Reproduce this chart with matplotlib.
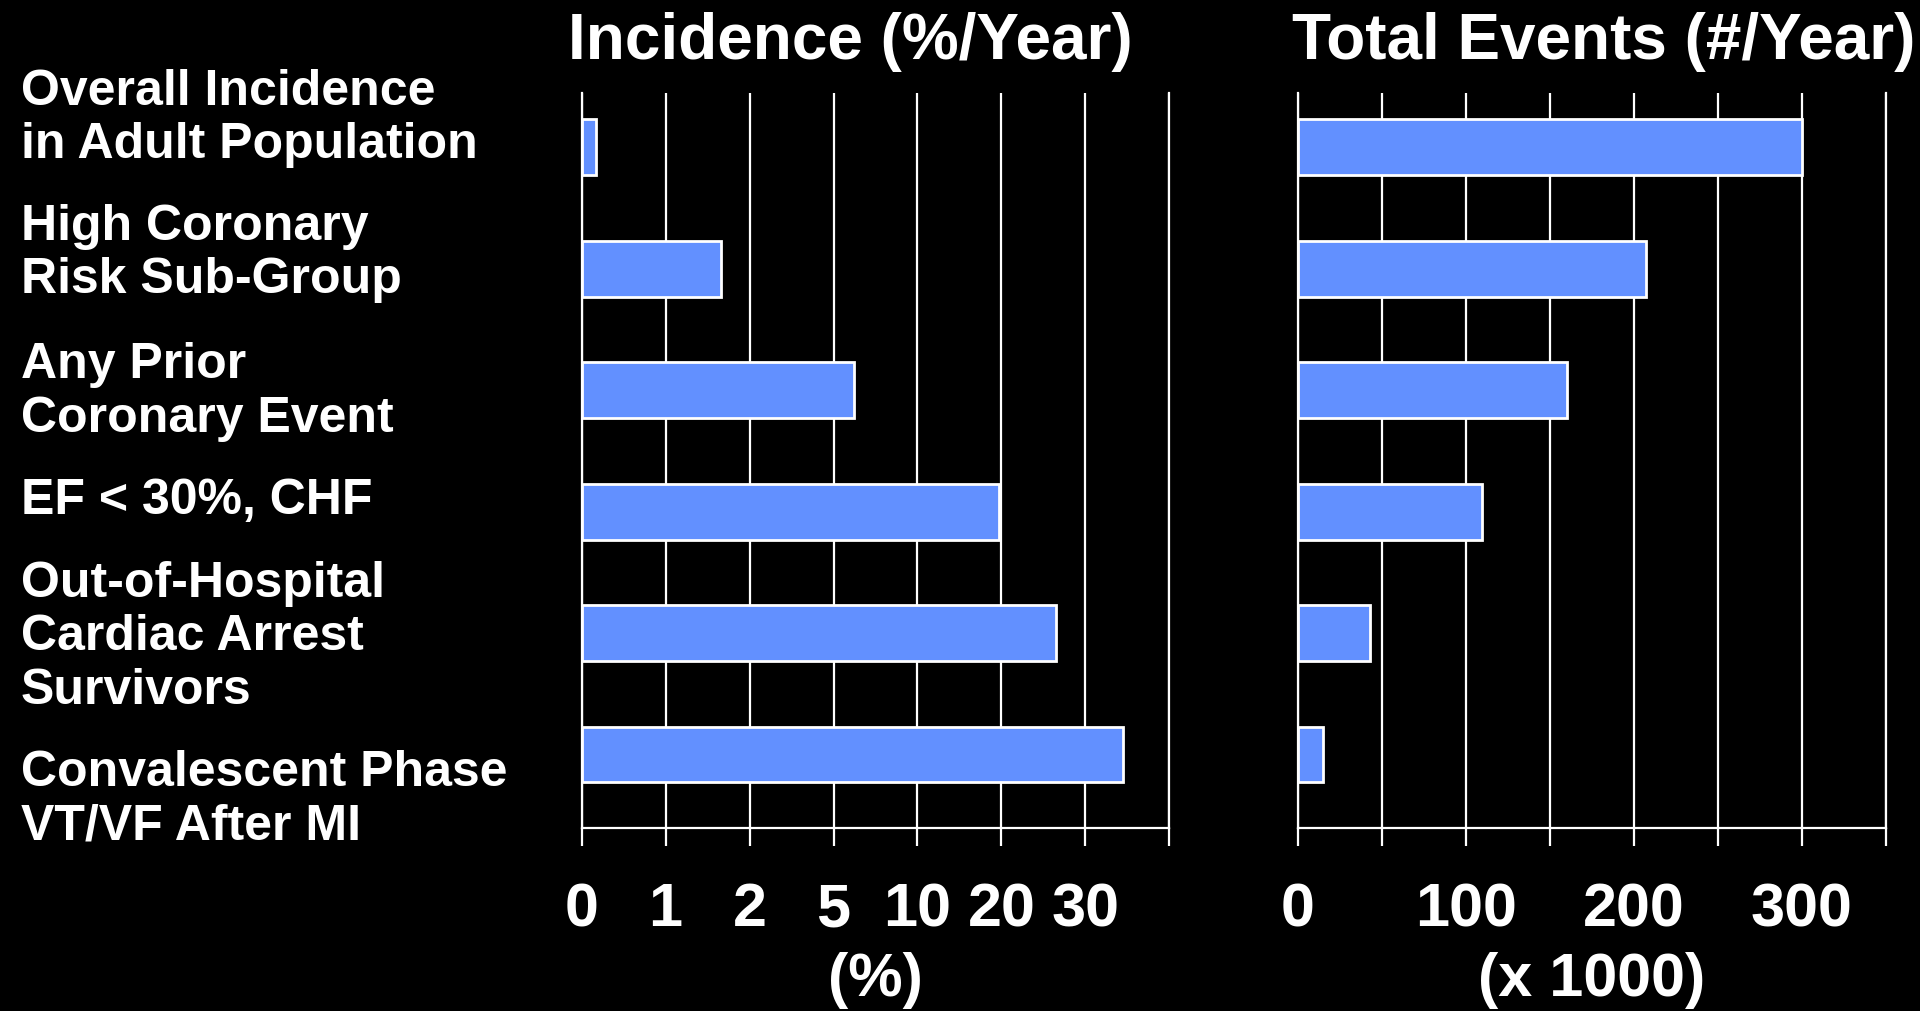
import matplotlib
matplotlib.use("Agg")
import matplotlib.pyplot as plt
import numpy as np

# row labels, top to bottom
groups = ["Overall Incidence\nin Adult Population",
          "High Coronary\nRisk Sub-Group",
          "Any Prior\nCoronary Event",
          "EF < 30%, CHF",
          "Out-of-Hospital\nCardiac Arrest\nSurvivors",
          "Convalescent Phase\nVT/VF After MI"]

# incidence in %/year, total events in thousands per year
incidence = [0.17, 1.66, 6.2, 19.7, 26.5, 34.5]
events = [300, 207, 160, 110, 43, 15]

# incidence axis: every break gets the same width
inc_breaks = [0, 1, 2, 5, 10, 20, 30, 40]
inc_labels = ["0", "1", "2", "5", "10", "20", "30", ""]
evt_ticks = [0, 50, 100, 150, 200, 250, 300, 350]
evt_labels = ["0", "", "100", "", "200", "", "300", ""]

BAR_COLOR = "#6290FF"
W, H = 1920, 1011

plt.rcParams["font.family"] = ["Liberation Sans", "DejaVu Sans"]
plt.rcParams["font.weight"] = "bold"
plt.rcParams["axes.labelweight"] = "bold"

steps = np.arange(len(inc_breaks), dtype=float)


def fwd(x):
    return np.interp(x, inc_breaks, steps)


def inv(x):
    return np.interp(x, steps, inc_breaks)


fig = plt.figure(figsize=(W / 100, H / 100), dpi=100, facecolor="black")
ax1 = fig.add_axes([581.6 / W, 1 - 828.3 / H, 587.8 / W, 735.6 / H])
ax2 = fig.add_axes([1297.5 / W, 1 - 828.3 / H, 588.5 / W, 735.6 / H])

ypos = np.arange(len(groups))


def style(ax):
    ax.set_facecolor("black")
    ax.spines["top"].set_visible(False)
    for s in ["bottom", "left", "right"]:
        ax.spines[s].set_color("white")
        ax.spines[s].set_linewidth(1.6)
    ax.tick_params(axis="x", colors="white", length=13, width=1.6,
                   direction="out", pad=26, labelsize=44)
    ax.tick_params(axis="y", left=False, labelleft=False)
    ax.grid(axis="x", color="white", linewidth=1.6)
    ax.set_axisbelow(True)
    ax.set_ylim(5.608, -0.4506)


# left panel: incidence
ax1.set_xscale("function", functions=(fwd, inv))
ax1.barh(ypos, incidence, height=0.46, color=BAR_COLOR,
         edgecolor="white", linewidth=2, zorder=3)
ax1.set_xlim(0, 40)
ax1.set_xticks(inc_breaks)
ax1.set_xticklabels(inc_labels)
style(ax1)
ax1.set_xlabel("(%)", fontsize=44, color="white", labelpad=9)

# right panel: total events
ax2.barh(ypos, events, height=0.46, color=BAR_COLOR,
         edgecolor="white", linewidth=2, zorder=3)
ax2.set_xlim(0, 350)
ax2.set_xticks(evt_ticks)
ax2.set_xticklabels(evt_labels)
style(ax2)
ax2.set_xlabel("(x 1000)", fontsize=44, color="white", labelpad=9)

# panel headings
fig.text(850 / W, 1 - 59 / H, "Incidence (%/Year)", ha="center",
         va="baseline", fontsize=46, color="white")
fig.text(1604 / W, 1 - 59 / H, "Total Events (#/Year)", ha="center",
         va="baseline", fontsize=46, color="white")

# row labels down the left side, one text per line
label_baselines = [105, 240, 378, 514, 597, 786]
line_step = 53.5
for text, b in zip(groups, label_baselines):
    for i, line in enumerate(text.split("\n")):
        fig.text(21 / W, 1 - (b + i * line_step) / H, line, ha="left",
                 va="baseline", fontsize=36, color="white")

fig.savefig("out.png", dpi=100, facecolor="black")
